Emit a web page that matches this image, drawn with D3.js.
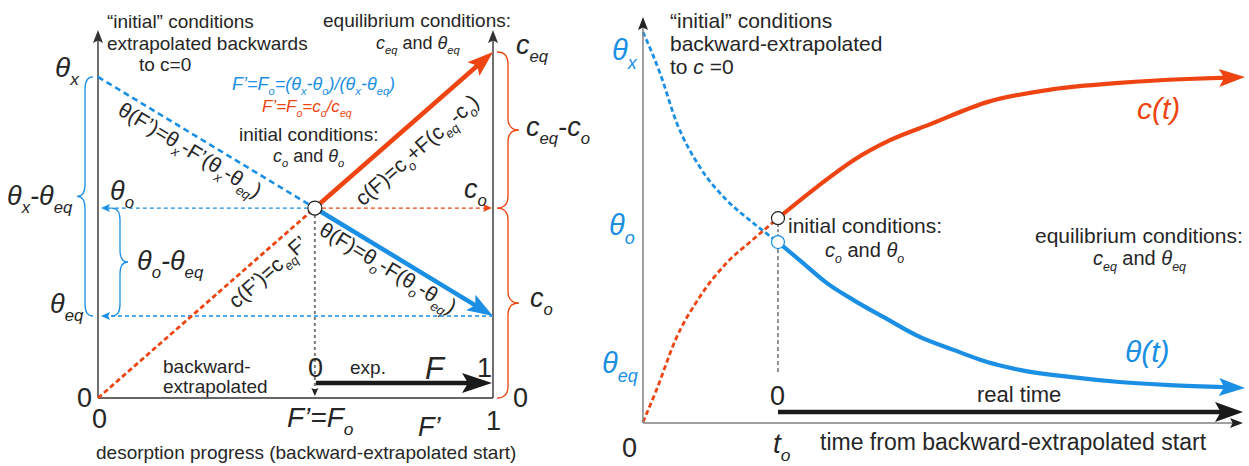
<!DOCTYPE html>
<html><head><meta charset="utf-8">
<script src="https://cdn.jsdelivr.net/npm/d3@7"></script>
<style>body{margin:0;background:#fff}svg{display:block}text{font-family:"Liberation Sans",Arial,sans-serif}</style>
</head><body><svg id="c" width="1249" height="466"></svg>
<script>
const RED="#ee4411", BLUE="#1b8fe3", INK="#262626", GRAY="#808080";

// ---------- Left panel data (normalised: F' in [0,1], c/c_eq in [0,1]) ----------
const leftLevelNames = ["theta_x","theta_o","theta_eq","c_eq","c_o"];
const leftLevelValues = [0.928, 0.549, 0.237, 1.0, 0.549];
const leftFo = 0.549;
const leftThetaDashed = [[0,0.928],[0.549,0.549]];
const leftThetaSolid  = [[0.549,0.549],[1,0.237]];
const leftCDashed     = [[0,0],[0.549,0.549]];
const leftCSolid      = [[0.549,0.549],[1,1]];
const leftTickLabels  = ["0","1"];

// ---------- Right panel data (time in units of t_o, value normalised) ----------
const cDashedT = [0, 0.10, 0.24, 0.42, 0.62, 0.81, 1.0];
const cDashedV = [0, 0.082, 0.209, 0.319, 0.406, 0.464, 0.520];
const cSolidT  = [1.0, 1.29, 1.56, 1.83, 2.13, 2.55, 3.04, 3.53, 4.03, 4.46];
const cSolidV  = [0.520, 0.600, 0.668, 0.719, 0.760, 0.816, 0.849, 0.865, 0.875, 0.880];
const thDashedT = [0, 0.126, 0.25, 0.42, 0.62, 0.79, 1.0];
const thDashedV = [0.995, 0.890, 0.763, 0.651, 0.566, 0.515, 0.459];
const thSolidT  = [1.0, 1.16, 1.36, 1.56, 1.78, 2.05, 2.30, 2.55, 2.79, 3.16, 3.53, 3.90, 4.46];
const thSolidV  = [0.459, 0.413, 0.355, 0.311, 0.268, 0.217, 0.184, 0.153, 0.133, 0.115, 0.102, 0.094, 0.087];
const rightTo = 1.0;
const rightTMax = 4.46;

const svg = d3.select("#c");
const lv = n => leftLevelValues[leftLevelNames.indexOf(n)];

// ---------- helpers ----------
function rich(g, str, o){
  const size=o.size||19;
  const t=g.append("text").attr("x",o.x||0).attr("y",o.y||0).attr("font-size",size)
    .attr("fill",o.fill||INK).attr("text-anchor",o.anchor||"start");
  if(o.transform) t.attr("transform",o.transform);
  const toks=str.split(/(\*[^*]+\*|_\{[^}]*\})/).filter(s=>s.length);
  let shift=0;
  toks.forEach(tk=>{
    let txt=tk, sub=false, ital=!!o.italic;
    if(tk.startsWith("_{")){txt=tk.slice(2,-1);sub=true;ital=true;}
    else if(tk.length>2&&tk[0]==="*"&&tk[tk.length-1]==="*"){txt=tk.slice(1,-1);ital=true;}
    const target=sub?size*0.3:0;
    const ts=t.append("tspan").text(txt).attr("font-style",ital?"italic":"normal");
    if(sub) ts.attr("font-size",size*0.62);
    if(target!==shift){ts.attr("dy",target-shift);shift=target;}
  });
  return t;
}
function head(g,tx,ty,ux,uy,len,hw,color){
  const nx=-uy, ny=ux;
  const bx=tx-ux*len, by=ty-uy*len;
  const mx=tx-ux*len*0.8, my=ty-uy*len*0.8;
  g.append("path").attr("d",`M${tx},${ty}L${bx+nx*hw},${by+ny*hw}L${mx},${my}L${bx-nx*hw},${by-ny*hw}Z`).attr("fill",color);
}
function arrowLine(g,x1,y1,x2,y2,o){
  const dx=x2-x1, dy=y2-y1, L=Math.hypot(dx,dy), ux=dx/L, uy=dy/L;
  const len=o.len||10, hw=o.hw||4;
  const l=g.append("line").attr("x1",x1).attr("y1",y1)
    .attr("x2",x2-ux*len*0.7).attr("y2",y2-uy*len*0.7)
    .attr("stroke",o.color).attr("stroke-width",o.width||1.5);
  if(o.dash) l.attr("stroke-dasharray",o.dash);
  head(g,x2,y2,ux,uy,len,hw,o.head||o.color);
}
function brace(g,x,y1,y2,w,dir,color){
  const a=dir*w/2, ym=(y1+y2)/2, r=Math.min(12,(y2-y1)/6);
  g.append("path").attr("d",
    `M${x},${y1}Q${x+a},${y1} ${x+a},${y1+r}L${x+a},${ym-r}Q${x+a},${ym} ${x+2*a},${ym}`+
    `Q${x+a},${ym} ${x+a},${ym+r}L${x+a},${y2-r}Q${x+a},${y2} ${x},${y2}`)
    .attr("fill","none").attr("stroke",color).attr("stroke-width",1.3);
}
function curveWithArrow(g,pts,color,width,dash,withHead){
  let p=pts.slice();
  const line=d3.line().curve(d3.curveMonotoneX);
  if(withHead){
    const P=p[p.length-1], Q=p[p.length-2];
    const L=Math.hypot(P[0]-Q[0],P[1]-Q[1]), ux=(P[0]-Q[0])/L, uy=(P[1]-Q[1])/L;
    const len=26;
    p[p.length-1]=[P[0]-ux*len*0.7,P[1]-uy*len*0.7];
    head(g,P[0],P[1],ux,uy,len,9,color);
  }
  const path=g.insert("path",":first-child").attr("d",line(p)).attr("fill","none").attr("stroke",color)
    .attr("stroke-width",width).attr("stroke-linecap","butt");
  if(dash) path.attr("stroke-dasharray",dash);
}

// =================== LEFT PANEL ===================
const xL=d3.scaleLinear().domain([0,1]).range([98,493]);
const yL=d3.scaleLinear().domain([0,1]).range([398,52]);
const gL=svg.append("g");
const L0=xL(0), L1=xL(1), B=yL(0);
const cx=xL(leftFo), cy=yL(lv("c_o"));

// axes
gL.append("line").attr("x1",L0).attr("x2",L1).attr("y1",B).attr("y2",B).attr("stroke","#333").attr("stroke-width",1.4);
arrowLine(gL,L0,B,L0,30,{color:"#333",width:1.4,len:13,hw:5});
arrowLine(gL,L1,B,L1,30,{color:"#333",width:1.4,len:13,hw:5});

// thin guide arrows
arrowLine(gL,cx-7,cy,L0+3,cy,{color:BLUE,width:1.3,dash:"4,3",len:9,hw:4});
arrowLine(gL,cx+7,cy,L1-1,cy,{color:RED,width:1.3,dash:"4,3",len:9,hw:4});
arrowLine(gL,L1,yL(lv("theta_eq")),L0+3,yL(lv("theta_eq")),{color:BLUE,width:1.3,dash:"4,3",len:9,hw:4});
arrowLine(gL,cx,cy+7,cx,B-2,{color:"#7a7a7a",width:2,dash:"3,3",len:8,hw:3.5,head:"#222"});

// main lines
const pL=d=>[xL(d[0]),yL(d[1])];
function seg(d,color,width,dash,withHead){
  const a=pL(d[0]), b=pL(d[1]);
  if(withHead) arrowLine(gL,a[0],a[1],b[0],b[1],{color,width,len:26,hw:9});
  else {const l=gL.append("line").attr("x1",a[0]).attr("y1",a[1]).attr("x2",b[0]).attr("y2",b[1]).attr("stroke",color).attr("stroke-width",width); if(dash) l.attr("stroke-dasharray",dash);}
}
seg(leftThetaDashed,BLUE,2.6,"6,4",false);
seg(leftCDashed,RED,2.8,"5,3",false);
seg(leftThetaSolid,BLUE,4.5,null,true);
seg(leftCSolid,RED,4.5,null,true);
gL.append("circle").attr("cx",cx).attr("cy",cy).attr("r",7).attr("fill","#fff").attr("stroke","#222").attr("stroke-width",1.2);

// black F arrow
arrowLine(gL,xL(leftFo)+1,B-15,L1-1,B-15,{color:"#1a1a1a",width:4.5,len:30,hw:10});

// braces
brace(gL,93,yL(lv("theta_x")),yL(lv("theta_eq")),16,-1,BLUE);
brace(gL,112,yL(lv("theta_o")),yL(lv("theta_eq")),16,1,BLUE);
brace(gL,497,yL(lv("c_eq")),yL(lv("c_o")),22,1,RED);
brace(gL,497,yL(lv("c_o")),yL(0),22,1,RED);

// texts
rich(gL,"“initial” conditions",{x:107,y:28});
rich(gL,"extrapolated backwards",{x:107,y:50});
rich(gL,"to c=0",{x:139,y:71});
rich(gL,"equilibrium conditions:",{x:323,y:27});
rich(gL,"*c*_{eq} and *θ*_{eq}",{x:376,y:49,size:18});
rich(gL,"F’=F_{o}=(θ_{x}-θ_{o})/(θ_{x}-θ_{eq})",{x:232,y:90,size:18,italic:true,fill:BLUE});
rich(gL,"F’=F_{o}=c_{o}/c_{eq}",{x:262,y:112,size:17,italic:true,fill:RED});
rich(gL,"initial conditions:",{x:239,y:141});
rich(gL,"*c*_{o} and *θ*_{o}",{x:273,y:162,size:18});

const angB=Math.atan2(yL(leftThetaSolid[1][1])-yL(leftThetaSolid[0][1]),xL(1)-xL(leftFo))*180/Math.PI;
const angR=Math.atan2(yL(1)-yL(leftCSolid[0][1]),xL(1)-xL(leftFo))*180/Math.PI;
rich(gL,"θ(F’)=θ_{x}-F’(θ_{x}-θ_{eq})",{size:21,y:7,anchor:"middle",transform:`translate(190,150) rotate(${angB})`});
rich(gL,"c(F)=c_{o}+F(c_{eq}-c_{o})",{size:21,y:7,anchor:"middle",transform:`translate(417,150) rotate(${angR})`});
rich(gL,"θ(F)=θ_{o}-F(θ_{o}-θ_{eq})",{size:21,y:7,anchor:"middle",transform:`translate(388,268) rotate(${angB})`});
rich(gL,"c(F’)=c_{eq}F’",{size:21,y:7,anchor:"middle",transform:`translate(268,272) rotate(${angR})`});

rich(gL,"θ_{x}",{x:55,y:77,size:28,italic:true});
rich(gL,"θ_{x}-θ_{eq}",{x:7,y:205,size:27,italic:true});
rich(gL,"θ_{o}",{x:110,y:200,size:27,italic:true});
rich(gL,"θ_{o}-θ_{eq}",{x:137,y:270,size:27,italic:true});
rich(gL,"θ_{eq}",{x:50,y:313,size:27,italic:true});
rich(gL,leftTickLabels[0],{x:77,y:407,size:27});
rich(gL,leftTickLabels[0],{x:92,y:428,size:27});
rich(gL,leftTickLabels[1],{x:486,y:430,size:27});
rich(gL,"F’=F_{o}",{x:287,y:427,size:28,italic:true});
rich(gL,"F’",{x:418,y:436,size:27,italic:true});
rich(gL,"desorption progress (backward-extrapolated start)",{x:96,y:459});
rich(gL,"backward-",{x:163,y:373});
rich(gL,"extrapolated",{x:163,y:393});
rich(gL,leftTickLabels[0],{x:308,y:377,size:27});
rich(gL,"exp.",{x:350,y:374});
rich(gL,"F",{x:425,y:379,size:31,italic:true});
rich(gL,leftTickLabels[1],{x:477,y:377,size:27});
rich(gL,"*c*_{eq}",{x:516,y:54,size:27});
rich(gL,"*c*_{eq}-*c*_{o}",{x:526,y:136,size:27});
rich(gL,"*c*_{o}",{x:464,y:198,size:27});
rich(gL,"*c*_{o}",{x:530,y:307,size:27});
rich(gL,leftTickLabels[0],{x:513,y:407,size:27});

// =================== RIGHT PANEL ===================
const xR=d3.scaleLinear().domain([0,rightTMax]).range([643,1245]);
const yR=d3.scaleLinear().domain([0,1]).range([422,30]);
const gR=svg.append("g");
const R0=xR(0), RB=yR(0);
const gRc=gR.append("g");

arrowLine(gR,R0,RB+1,1243,RB+1,{color:GRAY,width:1.5,len:13,hw:5,head:"#222"});
arrowLine(gR,R0,RB+1,R0,17,{color:GRAY,width:1.5,len:13,hw:5,head:"#222"});

const toPts=(T,V)=>T.map((t,i)=>[xR(t),yR(V[i])]);
curveWithArrow(gRc,toPts(cDashedT,cDashedV),RED,2.8,"5,3",false);
curveWithArrow(gRc,toPts(thDashedT,thDashedV),BLUE,2.8,"5,3",false);
curveWithArrow(gRc,toPts(cSolidT,cSolidV),RED,4.2,null,true);
curveWithArrow(gRc,toPts(thSolidT,thSolidV),BLUE,4.2,null,true);

const tx=xR(rightTo);
gR.append("line").attr("x1",tx).attr("x2",tx).attr("y1",yR(cSolidV[0])+6).attr("y2",yR(thSolidV[0])-6).attr("stroke","#222").attr("stroke-width",1).attr("stroke-dasharray","3,2");
gR.append("line").attr("x1",tx).attr("x2",tx).attr("y1",yR(thSolidV[0])+7).attr("y2",373).attr("stroke","#222").attr("stroke-width",1).attr("stroke-dasharray","4,3");
gR.append("circle").attr("cx",tx).attr("cy",yR(cSolidV[0])).attr("r",6.5).attr("fill","#fff").attr("stroke","#222").attr("stroke-width",1.2);
gR.append("circle").attr("cx",tx).attr("cy",yR(thSolidV[0])).attr("r",6.5).attr("fill","#fff").attr("stroke",BLUE).attr("stroke-width",1.2);

arrowLine(gR,tx,RB-10,1243,RB-10,{color:"#1a1a1a",width:4.5,len:28,hw:10});

rich(gR,"“initial” conditions",{x:670,y:28,size:21});
rich(gR,"backward-extrapolated",{x:670,y:51,size:21});
rich(gR,"to *c* =0",{x:670,y:74,size:21});
rich(gR,"initial conditions:",{x:788,y:233,size:21});
rich(gR,"*c*_{o} and *θ*_{o}",{x:825,y:257,size:20});
rich(gR,"equilibrium conditions:",{x:1035,y:243,size:21});
rich(gR,"*c*_{eq} and *θ*_{eq}",{x:1093,y:265,size:20});
rich(gR,"c(t)",{x:1137,y:119,size:30,italic:true,fill:RED});
rich(gR,"θ(t)",{x:1125,y:362,size:30,italic:true,fill:BLUE});
rich(gR,"θ_{x}",{x:612,y:60,size:29,italic:true,fill:BLUE});
rich(gR,"θ_{o}",{x:609,y:235,size:29,italic:true,fill:BLUE});
rich(gR,"θ_{eq}",{x:602,y:373,size:29,italic:true,fill:BLUE});
rich(gR,"0",{x:622,y:457,size:27});
rich(gR,"t_{o}",{x:773,y:453,size:28,italic:true});
rich(gR,"time from backward-extrapolated start",{x:820,y:450,size:23});
rich(gR,"0",{x:770,y:405,size:27});
rich(gR,"real time",{x:977,y:402,size:22});
</script></body></html>
